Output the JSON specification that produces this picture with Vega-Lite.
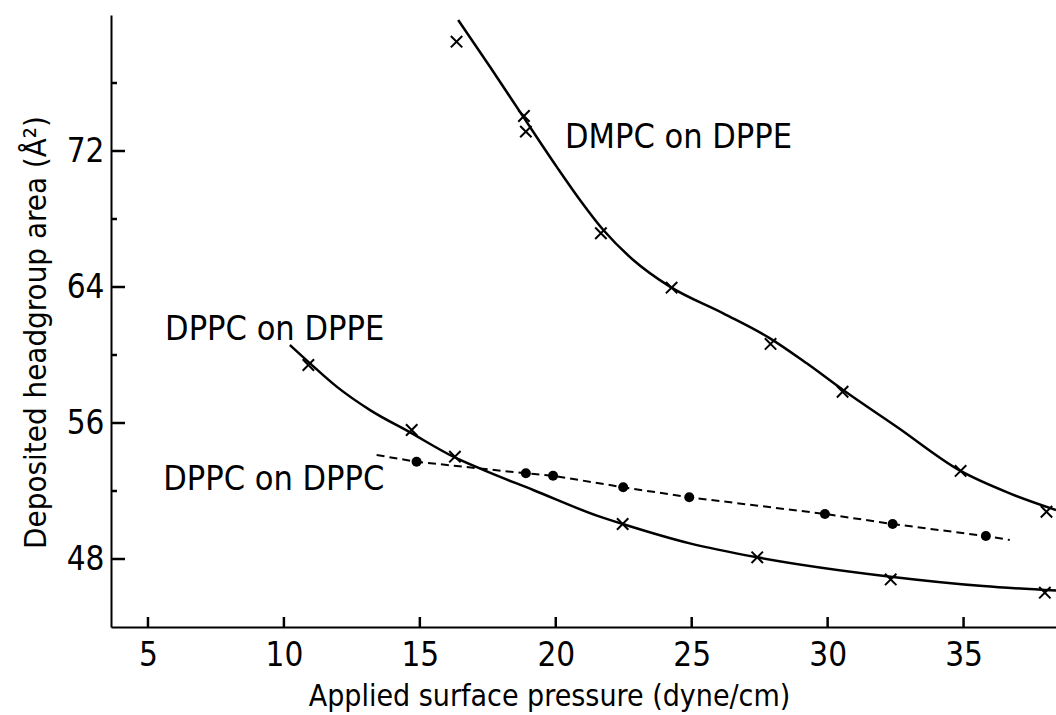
{
  "$schema": "https://vega.github.io/schema/vega-lite/v6.json",
  "width": 945,
  "height": 612,
  "autosize": {"type": "none"},
  "padding": {"left": 111, "top": 15, "right": 0, "bottom": 88},
  "background": "white",
  "config": {
    "view": {"stroke": null},
    "font": "Liberation Sans Narrow, DejaVu Sans Condensed, Roboto",
    "axis": {
      "domainColor": "black",
      "domainWidth": 2,
      "grid": false,
      "labelColor": "black",
      "titleColor": "black",
      "labelFont": "Liberation Sans Narrow, DejaVu Sans Condensed, Roboto",
      "titleFont": "Liberation Sans Narrow, DejaVu Sans Condensed, Roboto",
      "labelFontSize": 33,
      "titleFontSize": 30,
      "titleFontWeight": "normal",
      "labelFontWeight": "normal"
    }
  },
  "datasets": {
    "curves": [
      {"series": "DMPC on DPPE", "x": 16.41, "y": 79.71},
      {"series": "DMPC on DPPE", "x": 17.58, "y": 76.96},
      {"series": "DMPC on DPPE", "x": 18.8, "y": 74.02},
      {"series": "DMPC on DPPE", "x": 20.03, "y": 71.08},
      {"series": "DMPC on DPPE", "x": 20.89, "y": 69.12},
      {"series": "DMPC on DPPE", "x": 21.75, "y": 67.35},
      {"series": "DMPC on DPPE", "x": 22.85, "y": 65.59},
      {"series": "DMPC on DPPE", "x": 24.2, "y": 64.02},
      {"series": "DMPC on DPPE", "x": 26.16, "y": 62.45},
      {"series": "DMPC on DPPE", "x": 27.88, "y": 60.98},
      {"series": "DMPC on DPPE", "x": 29.23, "y": 59.51},
      {"series": "DMPC on DPPE", "x": 30.57, "y": 57.94},
      {"series": "DMPC on DPPE", "x": 32.54, "y": 55.78},
      {"series": "DMPC on DPPE", "x": 34.89, "y": 53.18},
      {"series": "DMPC on DPPE", "x": 36.7, "y": 51.86},
      {"series": "DMPC on DPPE", "x": 38.4, "y": 50.88},
      {"series": "DPPC on DPPE", "x": 10.22, "y": 60.59},
      {"series": "DPPC on DPPE", "x": 10.96, "y": 59.51},
      {"series": "DPPC on DPPE", "x": 11.94, "y": 58.14},
      {"series": "DPPC on DPPE", "x": 13.17, "y": 56.76},
      {"series": "DPPC on DPPE", "x": 14.64, "y": 55.45},
      {"series": "DPPC on DPPE", "x": 16.23, "y": 54.02},
      {"series": "DPPC on DPPE", "x": 17.33, "y": 53.24},
      {"series": "DPPC on DPPE", "x": 19.17, "y": 52.06},
      {"series": "DPPC on DPPE", "x": 21.62, "y": 50.49},
      {"series": "DPPC on DPPE", "x": 22.46, "y": 50.06},
      {"series": "DPPC on DPPE", "x": 24.93, "y": 48.92},
      {"series": "DPPC on DPPE", "x": 27.41, "y": 48.1},
      {"series": "DPPC on DPPE", "x": 32.32, "y": 46.96},
      {"series": "DPPC on DPPE", "x": 35.72, "y": 46.41},
      {"series": "DPPC on DPPE", "x": 38.4, "y": 46.14}
    ],
    "dashed": [
      {"x": 13.41, "y": 54.12},
      {"x": 14.88, "y": 53.72},
      {"x": 18.9, "y": 53.04},
      {"x": 19.9, "y": 52.9},
      {"x": 22.48, "y": 52.22},
      {"x": 24.91, "y": 51.63},
      {"x": 29.9, "y": 50.65},
      {"x": 32.39, "y": 50.06},
      {"x": 35.82, "y": 49.35},
      {"x": 36.7, "y": 49.12}
    ],
    "crosses": [
      {"series": "DMPC on DPPE", "x": 16.35, "y": 78.43},
      {"series": "DMPC on DPPE", "x": 18.83, "y": 74.06},
      {"series": "DMPC on DPPE", "x": 18.9, "y": 73.14},
      {"series": "DMPC on DPPE", "x": 21.66, "y": 67.16},
      {"series": "DMPC on DPPE", "x": 24.26, "y": 63.96},
      {"series": "DMPC on DPPE", "x": 27.9, "y": 60.65},
      {"series": "DMPC on DPPE", "x": 30.55, "y": 57.84},
      {"series": "DMPC on DPPE", "x": 34.89, "y": 53.18},
      {"series": "DMPC on DPPE", "x": 38.05, "y": 50.78},
      {"series": "DPPC on DPPE", "x": 10.9, "y": 59.41},
      {"series": "DPPC on DPPE", "x": 14.7, "y": 55.59},
      {"series": "DPPC on DPPE", "x": 16.29, "y": 54.02},
      {"series": "DPPC on DPPE", "x": 22.46, "y": 50.06},
      {"series": "DPPC on DPPE", "x": 27.41, "y": 48.1},
      {"series": "DPPC on DPPE", "x": 32.32, "y": 46.8},
      {"series": "DPPC on DPPE", "x": 37.99, "y": 46.02}
    ],
    "dots": [
      {"x": 14.88, "y": 53.72},
      {"x": 18.9, "y": 53.04},
      {"x": 19.9, "y": 52.9},
      {"x": 22.48, "y": 52.22},
      {"x": 24.91, "y": 51.63},
      {"x": 29.9, "y": 50.65},
      {"x": 32.39, "y": 50.06},
      {"x": 35.82, "y": 49.35}
    ],
    "labels": [
      {"label": "DMPC  on  DPPE", "x": 20.34, "y": 72.76},
      {"label": "DPPC  on  DPPE", "x": 5.63, "y": 61.47},
      {"label": "DPPC  on  DPPC", "x": 5.56, "y": 52.65}
    ],
    "xTicks": [{"x": 5}, {"x": 10}, {"x": 15}, {"x": 20}, {"x": 25}, {"x": 30}, {"x": 35}],
    "yMajor": [{"y": 48}, {"y": 56}, {"y": 64}, {"y": 72}],
    "yMinor": [{"y": 52}, {"y": 60}, {"y": 68}, {"y": 76}]
  },
  "resolve": {"axis": {"x": "independent", "y": "independent"}},
  "layer": [
    {
      "data": {"name": "curves"},
      "mark": {"type": "line", "color": "black", "strokeWidth": 2.5, "interpolate": "monotone", "clip": true},
      "encoding": {
        "x": {
          "field": "x", "type": "quantitative",
          "scale": {"domain": [3.64, 38.4], "nice": false, "zero": false},
          "axis": {
            "orient": "bottom",
            "title": "Applied surface pressure (dyne/cm)",
            "values": [5, 10, 15, 20, 25, 30, 35],
            "ticks": false,
            "tickSize": 0,
            "labelPadding": 12,
            "titleX": 438, "titleY": 78, "titleBaseline": "alphabetic", "titleAlign": "center"
          }
        },
        "y": {
          "field": "y", "type": "quantitative",
          "scale": {"domain": [44, 80], "nice": false, "zero": false},
          "axis": {
            "orient": "left",
            "title": "Deposited headgroup area (Å²)",
            "titleFontSize": 31,
            "values": [48, 56, 64, 72],
            "ticks": false,
            "tickSize": 0,
            "labelPadding": 7,
            "titleX": -75, "titleY": 317, "titleBaseline": "middle", "titleAlign": "center"
          }
        },
        "detail": {"field": "series"}
      }
    },
    {
      "data": {"name": "dashed"},
      "mark": {"type": "line", "color": "black", "strokeWidth": 2, "strokeDash": [8, 5]},
      "encoding": {
        "x": {"field": "x", "type": "quantitative", "axis": null},
        "y": {"field": "y", "type": "quantitative", "axis": null}
      }
    },
    {
      "data": {"name": "crosses"},
      "mark": {"type": "point", "shape": "M-1,-1L1,1M-1,1L1,-1", "filled": false, "color": "black", "strokeWidth": 2, "size": 130, "opacity": 1},
      "encoding": {
        "x": {"field": "x", "type": "quantitative", "axis": null},
        "y": {"field": "y", "type": "quantitative", "axis": null}
      }
    },
    {
      "data": {"name": "dots"},
      "mark": {"type": "point", "shape": "circle", "filled": true, "color": "black", "size": 100, "opacity": 1},
      "encoding": {
        "x": {"field": "x", "type": "quantitative", "axis": null},
        "y": {"field": "y", "type": "quantitative", "axis": null}
      }
    },
    {
      "data": {"name": "labels"},
      "mark": {"type": "text", "align": "left", "baseline": "middle", "fontSize": 34, "color": "black", "font": "Liberation Sans Narrow, DejaVu Sans Condensed, Roboto"},
      "encoding": {
        "x": {"field": "x", "type": "quantitative", "axis": null},
        "y": {"field": "y", "type": "quantitative", "axis": null},
        "text": {"field": "label"}
      }
    },
    {
      "data": {"name": "xTicks"},
      "mark": {"type": "tick", "orient": "vertical", "color": "black", "size": 20, "thickness": 2.5, "opacity": 1, "clip": true},
      "encoding": {
        "x": {"field": "x", "type": "quantitative", "axis": null},
        "y": {"datum": 44, "type": "quantitative", "axis": null}
      }
    },
    {
      "data": {"name": "yMajor"},
      "mark": {"type": "tick", "orient": "horizontal", "color": "black", "size": 28, "thickness": 2.5, "opacity": 1, "clip": true},
      "encoding": {
        "y": {"field": "y", "type": "quantitative", "axis": null},
        "x": {"datum": 3.64, "type": "quantitative", "axis": null}
      }
    },
    {
      "data": {"name": "yMinor"},
      "mark": {"type": "tick", "orient": "horizontal", "color": "black", "size": 12, "thickness": 2.5, "opacity": 1, "clip": true},
      "encoding": {
        "y": {"field": "y", "type": "quantitative", "axis": null},
        "x": {"datum": 3.64, "type": "quantitative", "axis": null}
      }
    },
    {
      "mark": {"type": "rule", "color": "black", "strokeWidth": 2},
      "encoding": {"y": {"datum": 80, "axis": null}}
    }
  ]
}
